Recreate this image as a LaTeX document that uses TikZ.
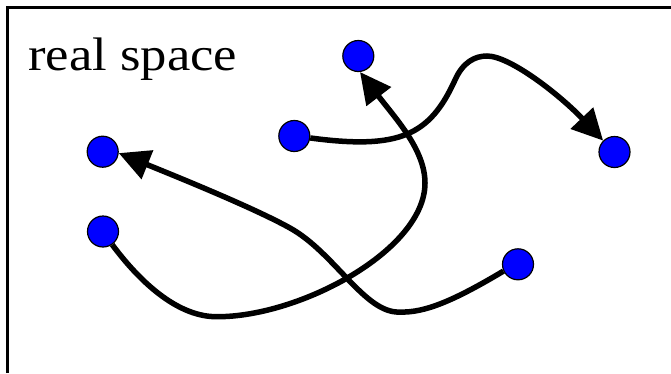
\documentclass[tikz,border=0pt]{standalone}
\usepackage{fontspec}
\setmainfont{Liberation Serif}
\newfontfamily\titlefont{Liberation Serif}
\usepackage{graphicx}
\usepackage{xcolor}
\usetikzlibrary{arrows.meta}
\definecolor{ink}{HTML}{000000}
\definecolor{dotblue}{HTML}{0000FF}

\begin{document}
\begin{tikzpicture}[x=1pt,y=-1pt,
    dot/.style={circle,draw=ink,line width=1.2pt,fill=dotblue,minimum size=31pt,inner sep=0pt},
    traj/.style={draw=ink,line width=5.5pt},
    >={Triangle[length=31pt,width=30pt]}]
  \useasboundingbox (0,0) rectangle (671,373);
  \draw[ink,line width=2.5pt] (7.3,373) -- (7.3,7.3) -- (671,7.3);

  \node[anchor=base west,inner sep=0pt,font=\titlefont\fontsize{47}{47}\selectfont] (title)
    at (28,70) {\scalebox{1.12}[1]{real space}};

  \node[dot] (a) at (102.7,151.7) {};
  \node[dot] (b) at (103,231.5)   {};
  \node[dot] (c) at (294.3,136)   {};
  \node[dot] (d) at (358.3,56)    {};
  \node[dot] (e) at (614.5,152)   {};
  \node[dot] (f) at (518,264.3)   {};

  \draw[traj,->] (c.353) .. controls (400,150) and (430,135) .. (455,80)
    .. controls (463,62) and (475,56) .. (487,56)
    .. controls (510,56) and (560,95) .. (e.135);
  \draw[traj,->] (f.205) .. controls (455,300) and (425,313) .. (400,312)
    .. controls (365,314) and (335,253) .. (290,228)
    .. controls (254,208) and (180,178) .. (a.355);
  \draw[traj,->] (b.305) .. controls (143,286) and (180,317) .. (217,316.7)
    .. controls (300,317) and (425,250) .. (425,183)
    .. controls (425,150) and (396,119) .. (d.276);
\end{tikzpicture}
\end{document}
